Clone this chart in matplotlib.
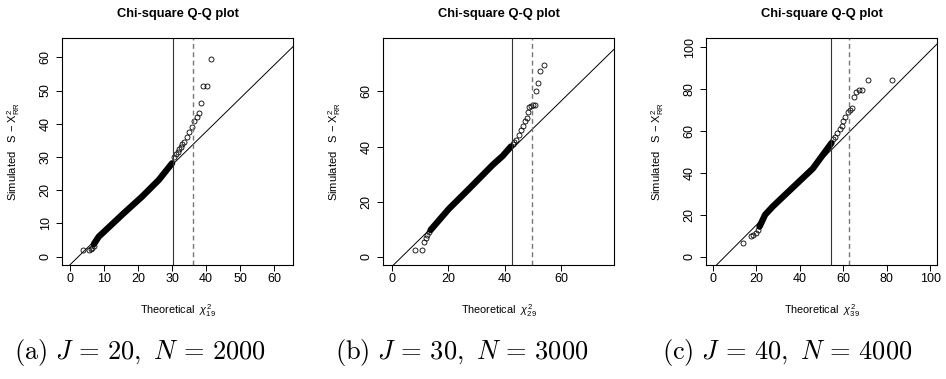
import matplotlib
matplotlib.use("Agg")
import matplotlib.pyplot as plt

plt.rcParams['font.family'] = ['Liberation Sans', 'DejaVu Sans']
plt.rcParams['mathtext.fontset'] = 'custom'
plt.rcParams['mathtext.rm'] = 'Liberation Sans'
plt.rcParams['mathtext.it'] = 'Liberation Sans:italic'
plt.rcParams['mathtext.bf'] = 'Liberation Sans:bold'

# ---------------- data ----------------
# panel (a) J=20, df=19
band_x1 = [7.0, 8.4, 15.8, 21.2, 26.1, 30.0]
band_y1 = [3.8, 6.0, 13.1, 18.1, 23.1, 28.1]
pts_x1 = [3.7, 5.5, 6.0, 6.5, 7.0,
          30.6, 31.1, 31.6, 32.1, 32.6, 33.0, 33.5, 34.3, 35.1, 35.8, 36.6,
          37.3, 37.9, 38.4, 39.2, 40.3, 41.4]
pts_y1 = [1.9, 2.0, 2.3, 2.6, 3.2,
          30.1, 30.9, 31.6, 32.4, 33.1, 33.8, 34.6, 36.0, 37.5, 39.0, 40.7,
          42.0, 43.1, 46.1, 51.5, 51.5, 59.6]

# panel (b) J=30, df=29
band_x2 = [13.7, 20.2, 27.3, 35.7, 39.3, 42.2]
band_y2 = [9.7, 17.4, 24.6, 33.3, 36.6, 40.0]
pts_x2 = [8.0, 10.8, 11.4, 12.0, 12.5, 13.1,
          42.8, 43.4, 44.0, 45.0, 45.8, 46.6, 47.3, 47.9, 48.4, 48.8, 49.5,
          50.2, 50.8, 51.2, 51.8, 52.6, 53.8]
pts_y2 = [2.4, 2.4, 5.5, 6.7, 7.9, 9.1,
          41.0, 41.7, 42.4, 44.3, 46.1, 47.5, 49.1, 50.3, 52.7, 54.3, 54.8,
          54.9, 55.1, 60.0, 63.0, 67.6, 69.5]

# panel (c) J=40, df=39
band_x3 = [21.5, 24.1, 27.6, 35.3, 46.0, 54.6]
band_y3 = [14.3, 20.0, 23.9, 31.5, 42.0, 54.2]
pts_x3 = [14.1, 17.6, 18.7, 19.9, 20.7,
          55.5, 56.3, 57.3, 58.6, 59.4, 60.1, 60.9, 62.0, 62.9, 64.0, 65.0,
          65.9, 67.3, 68.7, 71.3, 82.4]
pts_y3 = [6.4, 9.6, 10.4, 11.2, 12.8,
          56.0, 57.3, 58.9, 60.8, 62.4, 64.5, 66.6, 69.2, 70.1, 70.9, 76.1,
          78.3, 79.3, 79.3, 84.4, 84.4]

dfs = [19, 29, 39]
q95 = [30.14, 42.56, 54.57]
q99 = [36.19, 49.59, 62.43]
line_a = [-2.4, -3.5, -5.8]
line_b = [1.0, 1.0, 1.04]
xlims = [(-2.4, 65.6), (-3.2, 78.8), (-3.1, 103.1)]
ylims = [(-2.5, 65.8), (-3.0, 79.4), (-4.0, 104.3)]
xticks = [range(0, 61, 10), range(0, 61, 20), range(0, 101, 20)]
yticks = [range(0, 61, 10), range(0, 61, 20), range(0, 101, 20)]
captions = [r"$\mathrm{(a)}\ J\,=\,20,\ N\,=\,2000$",
            r"$\mathrm{(b)}\ J\,=\,30,\ N\,=\,3000$",
            r"$\mathrm{(c)}\ J\,=\,40,\ N\,=\,4000$"]
caption_x = [140, 462, 787]

bands = [(band_x1, band_y1), (band_x2, band_y2), (band_x3, band_y3)]
points = [(pts_x1, pts_y1), (pts_x2, pts_y2), (pts_x3, pts_y3)]

W, H = 946, 379
fig = plt.figure(figsize=(W / 100, H / 100), dpi=100)
lefts = [62, 383, 706]

for i in range(3):
    ax = fig.add_axes([lefts[i] / W, 1 - 265 / H, 231 / W, 227 / H])
    bx, by = bands[i]
    px, py = points[i]
    # dense part of the Q-Q cloud: overlapping circles form a solid band
    ax.plot(bx, by, color='black', lw=4.6, solid_capstyle='round', solid_joinstyle='round')
    ax.plot(px, py, 'o', mfc='none', mec='black', ms=3.6, mew=0.6)
    xs = list(xlims[i])
    ax.plot(xs, [line_a[i] + line_b[i] * x for x in xs], color='black', lw=0.7)
    ax.axvline(q95[i], color='#333333', lw=0.8)
    ax.axvline(q99[i], color='#777777', lw=1.0, ls=(0, (3.5, 2.5)))
    ax.set_xlim(xlims[i])
    ax.set_ylim(ylims[i])
    ax.set_xticks(list(xticks[i]))
    ax.set_yticks(list(yticks[i]))
    ax.tick_params(length=4.5, width=0.7, labelsize=9, pad=1.5)
    ax.tick_params(axis='y', pad=3)
    for lab in ax.get_yticklabels():
        lab.set_rotation(90)
        lab.set_va('center')
    for s in ax.spines.values():
        s.set_linewidth(0.8)
    ax.text(0.5, 1.105, "Chi-square Q-Q plot", transform=ax.transAxes,
            ha='center', va='center', fontsize=9.3, fontweight='bold')
    ax.set_ylabel(r"Simulated   S $-$ X$^{2}_{\mathrm{RR}}$", fontsize=8)
    ax.yaxis.set_label_coords(-0.172, 0.5)
    ax.set_xlabel(r"Theoretical  $\chi^{2}_{%d}$" % dfs[i], fontsize=7.8)
    ax.xaxis.set_label_coords(0.5, -0.165)
    fig.text(caption_x[i] / W, 1 - 353 / H, captions[i], ha='center', va='center',
             fontsize=19, math_fontfamily='cm')

fig.savefig("out.png", dpi=100)
